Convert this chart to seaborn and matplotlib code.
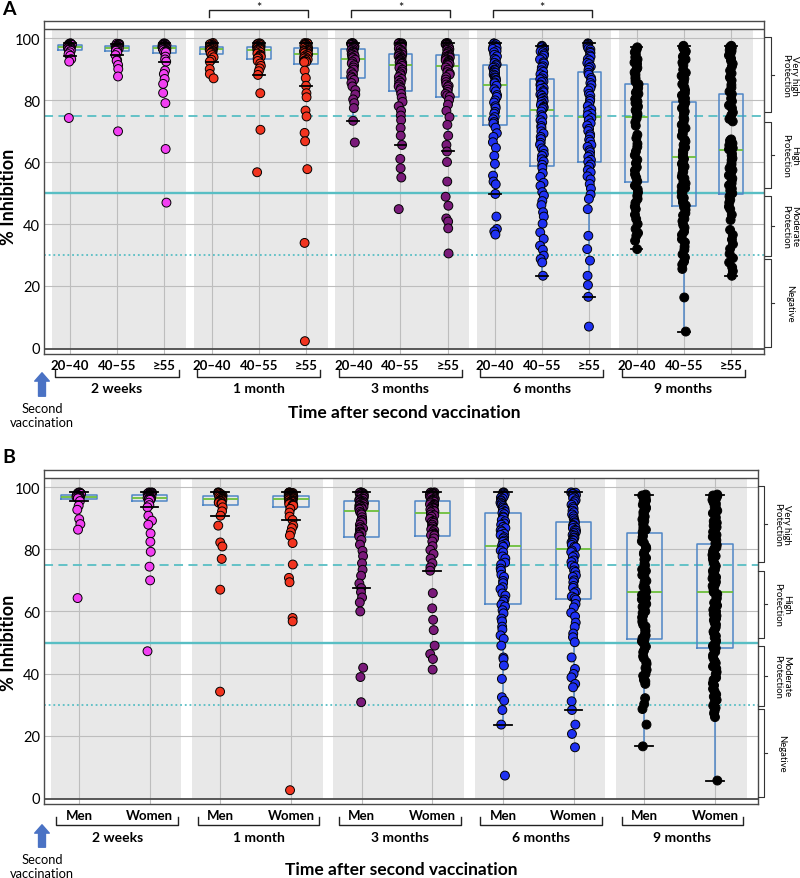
import numpy as np
import pandas as pd
import matplotlib
matplotlib.use("Agg")
import matplotlib.pyplot as plt
import matplotlib.transforms as mtransforms
from matplotlib.patches import Rectangle, FancyArrowPatch
from matplotlib.lines import Line2D
import seaborn as sns

plt.rcParams['font.family'] = ['Lato', 'DejaVu Sans']

time_labels = ['2 weeks', '1 month', '3 months', '6 months', '9 months']
age_labels = ['20–40', '40–55', '≥55']
sex_labels = ['Men', 'Women']
time_colors = ['#f23ff2', '#f2341f', '#7a1a7a', '#1f31f2', '#000000']
zone_labels = ['Very high\nProtection', 'High\nProtection', 'Moderate\nProtection', 'Negative']
zone_ranges = [(76.0, 100.3), (51.6, 73.0), (29.7, 49.0), (0.3, 28.7)]
thresholds = [75, 50, 30]
y_ticks = [0, 20, 40, 60, 80, 100]

# ---------------- Panel A: age groups ----------------
a_2w_20_40 = [98.3, 98.2, 98.1, 98.0, 97.9, 97.8, 97.7, 97.6, 97.5, 97.4, 97.3, 97.2, 97.1, 97.0,
              96.9, 96.8, 96.7, 96.6, 96.5, 96.3, 96.2, 95.9, 95.4, 94.8, 94.3, 93.2, 92.4, 74.2]
a_2w_40_55 = [98.2, 98.1, 98.0, 97.9, 97.8, 97.7, 97.6, 97.5, 97.4, 97.3, 97.2, 97.1, 97.0, 96.9,
              96.8, 96.8, 96.7, 96.6, 96.5, 96.4, 96.3, 96.2, 96.0, 95.9, 95.3, 94.5, 92.9, 92.7,
              91.3, 90.0, 87.6, 69.9]
a_2w_55 = [98.3, 98.2, 98.1, 98.0, 98.0, 97.9, 97.8, 97.7, 97.7, 97.6, 97.5, 97.4, 97.3, 97.3,
           97.2, 97.1, 97.0, 97.0, 96.9, 96.8, 96.7, 96.7, 96.6, 96.6, 96.5, 96.3, 96.2, 96.1,
           95.9, 95.8, 95.6, 95.5, 95.4, 94.0, 93.1, 92.4, 89.5, 88.4, 86.8, 85.2, 82.3, 79.0,
           64.2, 46.9]
a_1m_20_40 = [98.4, 98.2, 98.0, 97.8, 97.6, 97.5, 97.3, 97.2, 97.1, 97.0, 96.9, 96.8, 96.6, 96.5,
              96.4, 96.2, 96.0, 95.8, 95.5, 95.3, 95.1, 94.5, 93.8, 93.0, 92.4, 90.0, 88.4, 87.0]
a_1m_40_55 = [98.3, 98.2, 98.1, 98.0, 97.9, 97.7, 97.5, 97.3, 97.2, 97.1, 97.0, 96.9, 96.8, 96.7,
              96.6, 96.5, 96.3, 96.2, 96.0, 95.7, 95.4, 95.0, 94.6, 94.3, 94.0, 93.7, 93.4, 92.6,
              91.8, 91.0, 90.2, 89.3, 88.1, 82.2, 70.4, 56.7]
a_1m_55 = [98.4, 98.3, 98.2, 98.1, 98.0, 97.9, 97.8, 97.6, 97.4, 97.3, 97.1, 97.0,
           96.8, 96.6, 96.4, 96.2, 96.0, 95.9, 95.8, 95.7, 95.5, 95.3, 95.2, 95.1,
           94.8, 94.5, 94.2, 94.0, 93.7, 93.4, 93.1, 92.9, 92.6, 92.4, 92.3, 92.2,
           89.5, 87.1, 84.6, 82.2, 80.9, 76.6, 74.7, 69.4, 66.7, 57.7, 33.9, 2.2]
a_3m_20_40 = [98.4, 98.3, 98.2, 98.1, 98.0, 97.8, 97.5, 97.3, 97.0, 96.7,
              96.4, 96.1, 95.8, 95.5, 95.2, 94.9, 94.5, 94.2, 93.8, 93.5,
              93.0, 92.4, 91.8, 91.2, 90.5, 89.8, 89.0, 88.3, 87.6, 87.1,
              86.5, 85.5, 84.4, 83.2, 81.8, 80.2, 79.0, 77.4, 73.3, 66.3]
a_3m_40_55 = [98.4, 98.3, 98.2, 98.1, 98.0, 97.8, 97.6, 97.3, 97.0, 96.6, 96.2, 95.8, 95.4, 95.1,
              94.9, 94.6, 94.4, 94.1, 93.8, 93.6, 93.3, 93.0, 92.8, 92.5, 92.2, 92.0, 91.8, 91.6,
              91.0, 90.4, 89.8, 89.2, 88.6, 88.0, 87.4, 86.8, 86.2, 85.6, 85.0, 84.4, 83.8, 83.2,
              82.0, 80.8, 79.4, 78.0, 76.5, 75.0, 73.5, 71.0, 68.5, 65.5, 61.0, 58.0, 55.0, 44.8]
a_3m_55 = [98.4, 98.3, 98.2, 98.0, 97.9, 97.8, 97.6, 97.3, 97.0, 96.6, 96.4, 96.2, 95.8, 95.5, 95.1, 94.8,
           94.5, 94.2, 94.0, 93.9, 93.7, 93.4, 93.1, 92.9, 92.8, 92.6, 92.3, 92.0, 91.8, 91.6, 91.4, 91.2,
           90.5, 89.8, 89.0, 88.6, 88.2, 87.4, 86.6, 85.8, 85.0, 84.6, 84.2, 83.4, 82.6, 82.0, 81.5, 81.1,
           80.0, 78.5, 76.5, 74.5, 72.0, 68.5, 65.5, 63.4, 60.0, 53.7, 48.8, 45.9, 41.8, 40.8, 38.6, 30.5]
a_6m_20_40 = [98.3, 98.2, 98.0, 97.6, 97.3, 96.8, 96.5, 95.8, 95.4, 94.6, 94.1, 93.3, 92.9, 92.0, 91.5,
              91.2, 90.6, 90.4, 89.8, 89.6, 89.0, 88.8, 88.2, 87.9, 87.3, 87.1, 86.5, 86.3, 85.7, 85.4,
              84.6, 83.5, 82.8, 81.6, 81.0, 79.9, 79.2, 78.0, 77.4, 76.2, 75.6, 74.5, 73.8, 72.9, 72.4,
              71.1, 69.3, 68.1, 66.4, 64.6, 62.0, 59.4, 55.6, 53.7, 52.8, 49.7, 42.4, 38.4, 37.6, 36.6]
a_6m_40_55 = [97.5, 97.3, 97.0, 96.5, 96.3, 95.7, 95.4, 94.8, 94.3, 93.5, 93.1, 92.2, 91.8, 90.9,
              90.5, 89.6, 89.1, 88.3, 87.8, 87.0,
              86.7, 86.0, 85.8, 85.0, 84.7, 83.9, 83.6, 82.9, 82.5, 81.8, 81.4, 80.7, 80.3, 79.7,
              79.4, 78.7, 78.4, 77.8, 77.5, 77.1,
              76.3, 75.1, 74.6, 73.5, 72.8, 71.6, 71.0, 69.9, 69.2, 68.1, 67.4, 66.2, 65.6, 64.4,
              63.8, 62.6, 62.0, 60.9, 60.2, 59.1,
              58.1, 56.4, 55.2, 53.3, 52.3, 50.3, 49.2, 47.4, 46.1, 43.8, 42.4, 40.1, 37.3, 35.2,
              33.0, 31.7, 29.8, 28.7, 27.6, 23.3]
a_6m_55 = [98.3, 98.1, 97.8, 97.4, 97.2, 96.6, 96.3, 95.6, 95.2, 94.4, 94.0, 93.2, 92.8, 92.0, 91.6,
           90.8, 90.4, 89.7,
           88.8, 88.2, 87.1, 86.5, 85.5, 84.8, 83.8, 83.1, 82.0, 81.4, 80.3, 79.7, 78.7, 78.0, 77.0,
           76.4, 75.6, 75.1,
           74.2, 73.5, 72.5, 71.8, 70.7, 70.0, 68.9, 68.3, 67.2, 66.6, 65.5, 64.9, 63.8, 63.2, 62.2,
           61.7, 60.7, 60.1,
           59.2, 58.5, 57.4, 56.7, 55.4, 54.4, 52.9, 51.4, 49.5, 48.1, 44.8, 36.2, 31.9, 28.2, 23.3,
           20.3, 16.5, 6.9]
a_9m_20_40 = [97.0, 96.5, 96.2, 95.4, 94.7, 93.8, 93.1, 92.1, 91.7, 90.4, 89.9, 88.9, 88.2, 87.3, 86.7, 85.9,
              85.1, 84.7, 83.9, 83.2, 82.4, 82.0, 80.9, 80.3, 79.5, 79.0, 78.0, 77.6, 76.7, 76.3, 75.6, 75.2,
              74.1, 72.8, 71.7, 68.8, 67.7, 65.9, 64.9, 63.4, 62.2, 60.7, 59.6, 58.3, 57.3, 56.0, 55.0, 53.8,
              52.4, 51.2, 50.2, 49.1, 48.1, 46.8, 45.6, 44.8, 43.0, 41.6, 40.0, 38.4, 37.1, 36.2, 34.6, 31.9]
a_9m_40_55 = [97.5, 97.0, 96.5, 95.7, 95.1, 94.0, 93.1, 92.1, 91.2, 89.8, 88.8, 87.8, 86.9, 85.8, 85.1,
              84.1, 83.2, 82.2, 81.5, 80.5, 79.8,
              79.1, 78.0, 77.4, 76.3, 75.7, 74.4, 73.8, 72.7, 72.0, 70.9, 70.1, 69.1, 68.4, 67.2, 66.6,
              65.5, 64.7, 63.7, 63.1, 62.2, 61.6,
              61.0, 60.0, 59.4, 58.5, 57.9, 56.9, 56.3, 55.3, 54.7, 53.7, 53.1, 52.1, 51.6, 50.5, 49.9,
              48.9, 48.4, 47.5, 46.9, 46.0, 45.4,
              44.6, 43.5, 42.8, 41.7, 40.9, 39.7, 38.8, 37.5, 36.5, 35.1, 34.1, 32.7, 31.7, 30.2, 29.2,
              27.9, 26.9, 25.5, 16.3, 5.3]
a_9m_55 = [97.5, 97.1, 96.9, 96.1, 95.8, 94.9, 94.4, 93.4, 92.7, 91.7, 90.8, 89.5, 88.6, 87.3, 86.3,
           84.9, 84.0, 82.7,
           81.9, 80.5, 79.6, 78.3, 77.4, 76.0, 75.1, 73.9, 73.1, 67.3, 66.9, 66.2, 66.0, 65.4, 65.2,
           64.7, 64.5, 64.1,
           63.6, 62.7, 62.1, 61.2, 60.6, 59.6, 59.0, 58.0, 57.4, 56.4, 55.7, 54.7, 54.1, 53.1, 52.5,
           51.4, 50.8, 49.9,
           48.9, 47.8, 46.9, 45.6, 44.8, 43.0, 41.3, 38.1, 36.5, 35.0, 33.5, 32.0, 30.4, 29.0, 27.6,
           26.0, 24.8, 23.3]

# ---------------- Panel B: sex ----------------
b_2w_men = [98.3, 98.2, 98.1, 98.0, 97.9, 97.8, 97.6, 97.5, 97.4, 97.3, 97.2, 97.1, 97.0, 97.0,
            96.9, 96.8, 96.7, 96.6, 96.5, 96.4, 96.4, 95.5, 94.0, 92.7, 89.7, 88.1, 86.3, 64.3]
b_2w_women = [98.3, 98.25, 98.2, 98.15, 98.1, 98.0, 97.95, 97.9, 97.85, 97.8, 97.7, 97.6,
              97.5, 97.45, 97.4, 97.3, 97.2, 97.1, 97.05, 97.0, 96.9, 96.8, 96.75, 96.7,
              96.6, 96.55, 96.5, 96.45, 96.4, 96.3, 96.25, 96.2, 96.1, 96.0, 95.95, 95.9,
              95.0, 94.2, 93.5, 90.8, 89.2, 87.9, 85.1, 82.4, 79.2, 74.4, 70.0, 47.2]
b_1m_men = [98.3, 98.2, 98.15, 98.1, 98.0, 97.8, 97.6, 97.4, 97.2,
            97.1, 97.0, 96.9, 96.8, 96.75, 96.6, 96.5, 96.3, 96.2,
            96.0, 95.8, 95.6, 95.5, 95.4, 95.2, 95.0, 94.8, 94.6,
            93.5, 92.2, 90.8, 87.6, 82.2, 80.9, 76.9, 67.0, 34.2]
b_1m_women = [98.3, 98.25, 98.2, 98.1, 98.05, 98.0, 97.9, 97.8, 97.7, 97.65, 97.6, 97.5, 97.45, 97.35, 97.2,
              97.1, 97.0, 96.95, 96.9, 96.85, 96.8, 96.75, 96.7, 96.6, 96.5, 96.45, 96.4, 96.35, 96.3, 96.2,
              96.0, 95.8, 95.7, 95.6, 95.4, 95.3, 95.2, 95.1, 94.9, 94.7, 94.6, 94.5, 94.3, 94.1, 94.0,
              93.0, 91.8, 90.5, 89.4, 87.6, 86.8, 85.5, 84.4, 82.0, 75.1, 70.8, 69.4, 57.9, 56.8, 2.5]
b_3m_men = [98.3, 98.25, 98.2, 98.1, 98.0, 97.8, 97.7, 97.6, 97.4, 97.1, 96.9, 96.8, 96.4, 96.2, 96.0, 95.7,
            95.5, 95.35, 95.2, 95.0, 94.85, 94.7, 94.5, 94.2, 94.0, 93.85, 93.7, 93.5, 93.2, 93.1, 93.0, 92.8,
            92.0, 91.6, 91.2, 90.3, 89.5, 89.1, 88.7, 87.9, 87.1, 86.7, 86.4, 85.7, 85.4, 85.1, 84.6, 84.1,
            83.0, 81.5, 79.5, 77.8, 75.5, 73.4, 71.5, 69.0, 67.5, 66.2, 64.5, 62.9, 60.0, 41.9, 38.9, 30.8]
b_3m_women = [98.3, 98.25, 98.2, 98.1, 98.0, 97.8, 97.6, 97.5, 97.4, 97.2, 97.0, 96.85, 96.7, 96.4, 96.1,
              96.0, 95.9,
              95.6, 95.45, 95.3, 95.0, 94.6, 94.45, 94.3, 94.0, 93.7, 93.4, 93.25, 93.1, 92.8, 92.5,
              92.35, 92.2, 91.9,
              91.2, 90.9, 90.5, 89.8, 89.1, 88.8, 88.5, 87.9, 87.3, 86.7, 86.4, 86.1, 85.5, 85.0,
              84.7, 84.55, 84.4,
              83.5, 82.5, 81.0, 79.8, 78.5, 77.0, 75.5, 74.2, 73.1, 65.9, 61.0, 57.3, 54.0, 49.0,
              46.3, 44.7, 41.3]
b_6m_men = [98.3, 98.2, 98.0, 97.7, 97.6, 97.2, 97.0, 96.6, 96.3, 95.8, 95.5, 95.0, 94.7, 94.2, 93.9,
            93.4, 93.0, 92.5, 92.1, 91.7,
            91.3, 90.5, 90.2, 89.4, 89.0, 88.3, 87.9, 87.2, 86.8, 86.1, 85.7, 85.0, 84.6, 83.9, 83.5,
            82.8, 82.4, 81.7, 81.3, 80.8,
            79.6, 79.0, 77.7, 77.0, 75.7, 75.1, 73.8, 73.1, 71.8, 71.1, 69.8, 69.1, 67.8, 67.2, 65.8,
            65.1, 63.8, 63.2, 62.2, 61.6,
            60.4, 59.4, 57.7, 56.8, 55.1, 54.2, 52.3, 51.2, 49.0, 45.2, 44.7, 42.6, 38.3, 32.4, 31.3,
            28.3, 23.6, 7.2]
b_6m_women = [98.3, 98.2, 97.9, 97.8, 97.4, 97.2, 96.7, 96.4, 95.8, 95.4, 94.8, 94.3, 93.6, 93.1, 92.4,
              91.9, 91.2, 90.6, 89.9, 89.3, 88.7,
              88.4, 87.8, 87.6, 87.0, 86.8, 86.2, 86.0, 85.4, 85.2, 84.6, 84.4, 83.8, 83.6, 83.0, 82.8,
              82.2, 82.0, 81.4, 80.8, 80.6,
              79.6, 79.1, 78.0, 77.5, 76.4, 75.9, 74.8, 74.3, 73.2, 72.7, 71.6, 71.1, 70.0, 69.4, 68.2,
              67.6, 66.4, 65.9, 64.8, 64.3, 63.8,
              62.4, 61.3, 59.6, 58.4, 56.4, 55.0, 52.9, 51.7, 50.1, 45.2, 41.5, 39.9, 38.8, 36.7, 35.6,
              31.1, 28.3, 23.6, 20.6, 16.3]
b_9m_men = [97.6, 97.3, 97.2, 96.6, 96.4, 95.7, 95.4, 94.7, 94.3, 93.5, 93.1, 92.3, 91.9, 91.0, 90.5,
            89.6, 89.1, 88.2, 87.7, 86.8, 86.3, 85.5,
            84.4, 83.9, 82.6, 82.1, 80.8, 80.3, 79.0, 78.5, 77.2, 76.7, 75.4, 74.8, 73.5, 73.0, 71.7,
            71.2, 69.8, 69.3, 68.0, 67.5, 66.5, 65.9,
            65.3, 64.4, 63.9, 62.9, 62.4, 61.5, 61.0, 60.0, 59.5, 58.6, 58.1, 57.1, 56.6, 55.7, 55.2,
            54.2, 53.7, 52.8, 52.3, 51.4, 50.9, 50.4,
            49.4, 48.7, 47.5, 46.9, 45.6, 45.0, 43.7, 43.1, 41.8, 41.2, 39.9, 39.3, 38.0, 37.5, 36.7,
            32.1, 30.2, 28.6, 23.6, 16.6]
b_9m_women = [97.6, 97.3, 97.2, 96.7, 96.5, 95.9, 95.7, 95.0, 94.7, 93.9, 93.6, 92.8, 92.4, 91.6, 91.2,
              90.3, 89.9, 89.0, 88.5, 87.6, 87.1, 86.1, 85.6, 84.6, 84.0, 82.9, 81.9,
              81.4, 80.6, 80.2, 79.4, 79.0, 78.2, 77.8, 77.0, 76.6, 75.8, 75.4, 74.6, 74.2, 73.4, 73.0,
              72.2, 71.8, 71.0, 70.6, 69.8, 69.4, 68.6, 68.2, 67.4, 67.1, 66.5, 66.2,
              65.6, 64.7, 64.2, 63.3, 62.8, 61.9, 61.4, 60.5, 60.0, 59.1, 58.6, 57.7, 57.2, 56.3, 55.8,
              54.9, 54.4, 53.5, 53.0, 52.1, 51.6, 50.7, 50.2, 49.3, 48.9, 48.2, 47.8,
              47.0, 45.9, 45.2, 44.1, 43.4, 42.3, 41.6, 40.5, 39.8, 38.7, 38.0, 36.9, 36.2, 35.1, 34.4,
              33.3, 32.6, 31.5, 30.8, 29.7, 29.0, 27.9, 27.2, 26.0, 5.6]

groups_a = [[a_2w_20_40, a_2w_40_55, a_2w_55],
            [a_1m_20_40, a_1m_40_55, a_1m_55],
            [a_3m_20_40, a_3m_40_55, a_3m_55],
            [a_6m_20_40, a_6m_40_55, a_6m_55],
            [a_9m_20_40, a_9m_40_55, a_9m_55]]
groups_b = [[b_2w_men, b_2w_women],
            [b_1m_men, b_1m_women],
            [b_3m_men, b_3m_women],
            [b_6m_men, b_6m_women],
            [b_9m_men, b_9m_women]]
sig_pairs_a = [1, 2, 3]  # time groups with significance bracket in panel A

BOX = '#4f86c6'
MED = '#6cbf3c'
TEAL = '#58bec4'
GRID = '#bdbdbd'
BAND = '#e8e8e8'
FRAME = '#4a4a4a'

W, H = 800, 879
fig = plt.figure(figsize=(W / 100, H / 100), dpi=100)


def px_axes(l, t, r, b):
    return fig.add_axes([l / W, 1 - b / H, (r - l) / W, (b - t) / H])


def long_frame(groups, subs):
    rows = []
    for ti, t in enumerate(time_labels):
        for si, s in enumerate(subs):
            for v in groups[ti][si]:
                rows.append((f'{t}|{s}', t, v))
    return pd.DataFrame(rows, columns=['cat', 'time', 'value'])


def draw_panel(ax, groups, subs, xlim, band_pad, jitter, brk, y_lab,
               brace_x, brace_text_x, ylabel_y):
    np.random.seed(3)
    n_sub = len(subs)
    cats = [f'{t}|{s}' for t in time_labels for s in subs]
    n = len(cats)
    df = long_frame(groups, subs)
    ylo, yhi, ytop = -1.94, 105.5, 102.9
    for k in range(len(time_labels)):
        x0 = k * n_sub - band_pad[0]
        x1 = k * n_sub + n_sub - 1 + band_pad[1]
        ax.add_patch(Rectangle((x0, -0.4), x1 - x0, ytop + 0.4, facecolor=BAND,
                               edgecolor='none', zorder=0))
    sns.boxplot(data=df, x='cat', y='value', order=cats, ax=ax, fill=False, width=0.5,
                whis=1.5, showfliers=False, color=BOX, linewidth=1.1,
                medianprops=dict(color=MED, linewidth=1.3),
                whiskerprops=dict(color=BOX, linewidth=1.1),
                capprops=dict(color='black', linewidth=1.3, zorder=4))
    sns.stripplot(data=df, x='cat', y='value', order=cats, hue='time', hue_order=time_labels,
                  palette=time_colors, jitter=jitter, size=6.4, edgecolor='black',
                  linewidth=0.7, legend=False, ax=ax, zorder=3)
    ax.set_xlim(*xlim)
    ax.set_ylim(ylo, yhi)
    ax.grid(False)
    for yv in y_ticks[1:]:
        ax.axhline(yv, color=GRID, lw=0.8, zorder=0.5)
    ax.vlines(range(n), ylo, ytop, color=GRID, lw=0.8, zorder=0.5)
    ax.axhline(ytop, color=FRAME, lw=1.0, zorder=1)
    ax.axhline(-0.4, color=FRAME, lw=1.3, zorder=1)
    ax.axhline(thresholds[0], color=TEAL, lw=1.3, ls=(0, (5, 3)), zorder=1.5)
    ax.axhline(thresholds[1], color=TEAL, lw=1.7, zorder=1.5)
    ax.axhline(thresholds[2], color=TEAL, lw=1.3, ls=(0, (1, 1.6)), zorder=1.5)
    ax.set_xticks(range(n))
    ax.set_xticklabels(subs * len(time_labels), fontweight='bold', fontsize=9.5)
    ax.set_yticks(y_ticks)
    ax.set_yticklabels([str(v) for v in y_ticks], fontsize=10.5)
    ax.tick_params(length=0)
    ax.tick_params(axis='x', pad=3.5)
    ax.tick_params(axis='y', pad=3)
    ax.set_xlabel('')
    ax.set_ylabel('% Inhibition', fontweight='bold', fontsize=13)
    ax.yaxis.set_label_coords(-0.038, ylabel_y)
    for s in ax.spines.values():
        s.set_color(FRAME)
        s.set_linewidth(1.0)

    # group brackets below
    trx = mtransforms.blended_transform_factory(ax.transData, ax.transAxes)
    for k, t in enumerate(time_labels):
        x0 = k * n_sub + brk[0]
        x1 = k * n_sub + n_sub - 1 + brk[1]
        ax.add_line(Line2D([x0, x0, x1, x1], [y_lab[0], y_lab[1], y_lab[1], y_lab[0]],
                           transform=trx, color='#222222', lw=1.0, clip_on=False))
        ax.text((x0 + x1) / 2, y_lab[2], t, transform=trx, ha='center', va='center',
                fontsize=10, fontweight='bold')
    ax.text(0.5, y_lab[3], 'Time after second vaccination', transform=ax.transAxes,
            ha='center', va='center', fontsize=12.5, fontweight='bold')

    # right braces
    trb = mtransforms.blended_transform_factory(fig.transFigure, ax.transData)
    for (lo, hi), lab in zip(zone_ranges, zone_labels):
        xv = brace_x / W
        xl = (brace_x - 6) / W
        xr = (brace_x + 3) / W
        mid = (lo + hi) / 2
        fig.add_artist(Line2D([xl, xv, xv, xl], [hi, hi, lo, lo], transform=trb,
                              color='#333333', lw=0.8))
        fig.add_artist(Line2D([xv, xr], [mid, mid], transform=trb, color='#333333', lw=0.8))
        fig.text(brace_text_x / W, mid, lab, transform=trb, rotation=270, ha='center',
                 va='center', fontsize=6.8, multialignment='center', linespacing=1.1)
    return trx


def arrow_note(y_head, y_tail, y_text):
    fig.add_artist(FancyArrowPatch(
        (42 / W, 1 - y_tail / H), (42 / W, 1 - y_head / H), transform=fig.transFigure,
        arrowstyle='simple,head_length=0.6,head_width=1.05,tail_width=0.5',
        mutation_scale=10, color='#4a72c4'))
    fig.text(42 / W, 1 - y_text / H, 'Second\nvaccination', ha='center', va='center',
             fontsize=9.3, linespacing=1.2)


# Panel A
axA = px_axes(44, 22, 764, 355)
trA = draw_panel(axA, groups_a, age_labels, (-0.551, 14.70), (0.38, 0.46), 0.045,
                 (-0.31, 0.30), (-0.048, -0.069, -0.102, -0.174), 771, 790, 0.474)
for k in sig_pairs_a:
    x0, x1 = 3 * k - 0.05, 3 * k + 2.05
    axA.add_line(Line2D([x0, x0, x1, x1], [1.012, 1.033, 1.033, 1.012], transform=trA,
                        color='#222222', lw=1.0, clip_on=False))
    axA.text((x0 + x1) / 2, 1.031, '*', transform=trA, ha='center', va='baseline',
             fontsize=9)
arrow_note(371, 400, 416)
fig.text(2 / W, 1 - 1 / H, 'A', ha='left', va='top', fontsize=14, fontweight='bold')

# Panel B
axB = px_axes(44, 471, 758, 805)
draw_panel(axB, groups_b, sex_labels, (-0.495, 9.61), (0.40, 0.45), 0.035,
           (-0.32, 0.40), (-0.039, -0.063, -0.099, -0.195), 764, 782, 0.485)
arrow_note(823, 851, 867)
fig.text(2 / W, 1 - 449 / H, 'B', ha='left', va='top', fontsize=14, fontweight='bold')

fig.savefig('out.png', dpi=100)
